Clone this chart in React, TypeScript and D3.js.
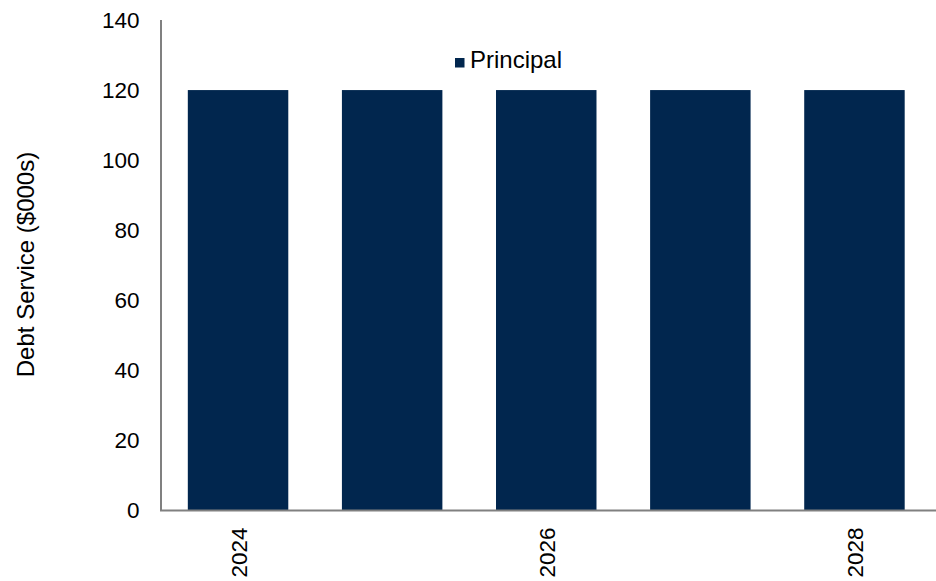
import React from "react";
import * as d3 from "d3";

const categories = ["2024", "2025", "2026", "2027", "2028"];
const principal = [120, 120, 120, 120, 120];
const yTicks = [0, 20, 40, 60, 80, 100, 120, 140];
const xTickLabels = ["2024", "2026", "2028"];

export default function App() {
  const W = 936, H = 581;
  const left = 161, right = 931.5, top = 20, bottom = 510.5;
  const x = d3.scaleBand<string>().domain(categories).range([left, right]).paddingInner(0.348).paddingOuter(0.174);
  const y = d3.scaleLinear().domain([0, 140]).range([bottom, top]);
  const font = "Liberation Sans, Arial, sans-serif";
  const barColor = "#01264E";
  return (
    <svg width={W} height={H} style={{ position: "absolute", left: 0, top: 0 }} fontFamily={font}>
      {categories.map((c, i) => (
        <rect key={c} x={x(c)} y={y(principal[i])} width={x.bandwidth()} height={y(0) - y(principal[i])} fill={barColor} />
      ))}
      <line x1={left} x2={left} y1={y(140)} y2={y(0)} stroke="#808080" strokeWidth={2} />
      <line x1={left - 1} x2={W} y1={y(0)} y2={y(0)} stroke="#808080" strokeWidth={2} />
      {yTicks.map((t) => (
        <text key={t} x={139.5} y={y(t)} dy="0.35em" textAnchor="end" fontSize={22.5} fill="#000">{t}</text>
      ))}
      {xTickLabels.map((c) => {
        const cx = (x(c) as number) + x.bandwidth() / 2;
        return (
          <text key={c} transform={`translate(${cx + 8.5},${527.5}) rotate(-90)`} textAnchor="end" fontSize={22.5} fill="#000">{c}</text>
        );
      })}
      <text transform={`translate(34,${264.5}) rotate(-90)`} textAnchor="middle" fontSize={24} fill="#000">Debt Service ($000s)</text>
      <rect x={455} y={58} width={9.5} height={9.5} fill={barColor} />
      <text x={470} y={67.5} fontSize={24} fill="#000">Principal</text>
    </svg>
  );
}
